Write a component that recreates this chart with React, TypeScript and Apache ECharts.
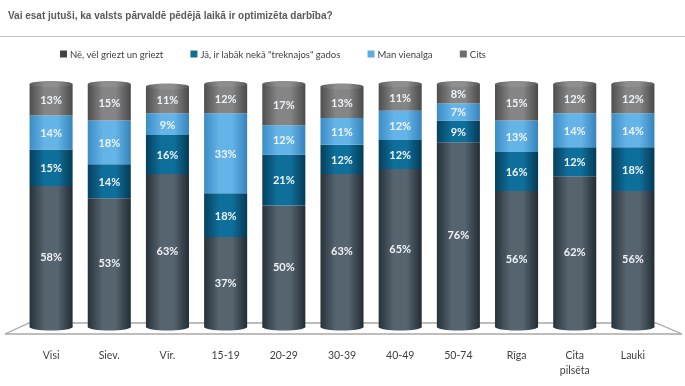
import React, { useEffect, useRef } from "react";
import * as echarts from "echarts";

const categories = ["Visi", "Siev.", "Vīr.", "15-19", "20-29", "30-39", "40-49", "50-74", "Rīga", "Cita\npilsēta", "Lauki"];
const seriesNames = ["Nē, vēl griezt un griezt", "Jā, ir labāk nekā \"treknajos\" gados", "Man vienalga", "Cits"];
const neValues = [58, 53, 63, 37, 50, 63, 65, 76, 56, 62, 56];
const jaValues = [15, 14, 16, 18, 21, 12, 12, 9, 16, 12, 18];
const vienalgaValues = [14, 18, 9, 33, 12, 11, 12, 7, 13, 14, 14];
const citsValues = [13, 15, 11, 12, 17, 13, 11, 8, 15, 12, 12];
const title = "Vai esat jutuši, ka valsts pārvaldē pēdējā laikā ir optimizēta darbība?";

const grad = (edgeL: string, hi: string, edgeR: string) => ({
  type: "linear", x: 0, y: 0, x2: 1, y2: 0,
  colorStops: [
    { offset: 0, color: edgeL },
    { offset: 0.35, color: hi },
    { offset: 0.65, color: hi },
    { offset: 1, color: edgeR },
  ],
});

const palettes = [
  grad("#27323a", "#56646f", "#222c33"),
  grad("#05405d", "#0f6f9b", "#053a55"),
  grad("#3a8cc4", "#65b4e8", "#3583bb"),
  grad("#4e4e4e", "#858585", "#4a4a4a"),
];
const legendColors = ["#3f4449", "#136d92", "#5badde", "#6e6e6e"];

export default function App() {
  const ref = useRef<HTMLDivElement>(null);
  useEffect(() => {
    if (!ref.current) return;
    const chart = echarts.init(ref.current, null, { renderer: "svg" });
    const all = [neValues, jaValues, vienalgaValues, citsValues];
    const totals = categories.map((_, i) => all.reduce((s, a) => s + a[i], 0));
    const barRatio = 0.74;
    const labelStyle = {
      show: true,
      position: "inside",
      formatter: (p: any) => p.value + "%",
      color: "#eef2f5",
      fontSize: 11,
      fontFamily: "Lato",
      fontWeight: "bold",
    };
    const barSeries = all.map((vals, k) => ({
      name: seriesNames[k],
      type: "bar",
      stack: "total",
      barWidth: "74%",
      data: vals,
      z: 3,
      itemStyle: { color: palettes[k] },
      label: labelStyle,
    }));
    const caps = {
      type: "custom",
      z: 4,
      silent: true,
      data: categories.map((_, i) => [i, totals[i]]),
      renderItem: (params: any, api: any) => {
        const i = api.value(0);
        const t = api.value(1);
        const b = api.coord([i, 0]);
        const tp = api.coord([i, t]);
        const w = api.size([1, 0])[0] * barRatio;
        return {
          type: "group",
          children: [
            {
              type: "ellipse",
              shape: { cx: b[0], cy: b[1], rx: w / 2, ry: 3.5 },
              style: { fill: palettes[0] },
            },
            {
              type: "ellipse",
              shape: { cx: tp[0], cy: tp[1], rx: w / 2, ry: 3 },
              style: { fill: grad("#5a5a5a", "#8e8e8e", "#555555") },
            },
          ],
        };
      },
    };
    chart.setOption({
      animation: false,
      title: {
        text: title,
        left: 3,
        top: 5,
        textStyle: { fontSize: 10, fontWeight: "bold", color: "#5a5a5a", fontFamily: "Liberation Sans" },
      },
      legend: {
        data: seriesNames.map((n, k) => ({ name: n, itemStyle: { color: legendColors[k] } })),
        left: 55,
        top: 44,
        itemWidth: 7,
        itemHeight: 7,
        itemGap: 27,
        icon: "rect",
        textStyle: { fontSize: 9.5, color: "#404040", fontFamily: "Lato", padding: [0, 0, 0, -2] },
      },
      grid: { left: 22, right: 23, top: 84, bottom: 59 },
      xAxis: {
        type: "category",
        data: categories,
        axisLine: { show: false },
        axisTick: { show: false },
        axisLabel: { color: "#404040", fontSize: 10.5, fontFamily: "Lato", margin: 20, lineHeight: 15 },
      },
      yAxis: { type: "value", min: 0, max: 100, show: false },
      graphic: [
        {
          type: "line",
          shape: { x1: 0, y1: 36.5, x2: 685, y2: 36.5 },
          style: { stroke: "#c4c4c4", lineWidth: 1 },
          z: 0,
        },
        {
          type: "polygon",
          shape: { points: [[5, 334], [29, 323], [656, 323], [682, 334]] },
          style: { fill: "#ffffff", stroke: "#a8a8a8", lineWidth: 1.3 },
          z: 0,
        },
      ],
      series: [...barSeries, caps],
    });
    return () => chart.dispose();
  }, []);
  return <div ref={ref} style={{ position: "fixed", left: 0, top: 0, width: 685, height: 386 }} />;
}
